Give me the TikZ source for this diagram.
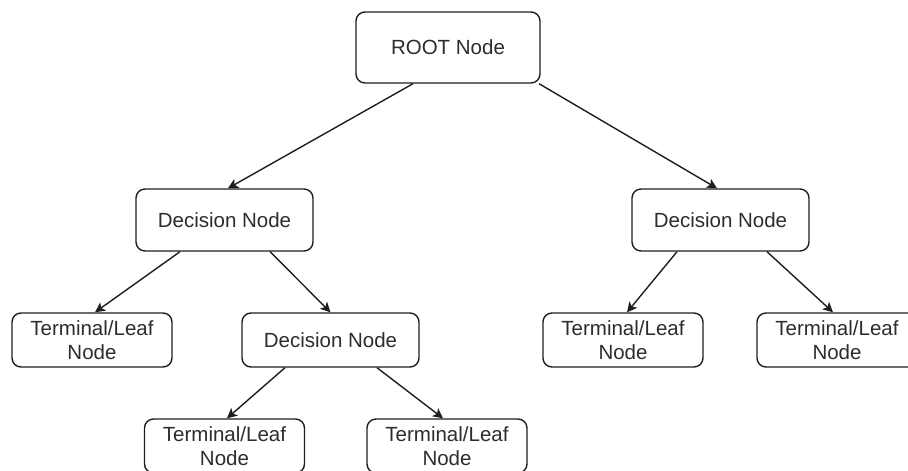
\documentclass[tikz,border=0pt]{standalone}
\usepackage{fontspec}
\setmainfont{Liberation Sans}
\usetikzlibrary{positioning, arrows.meta, calc}
\definecolor{boxcol}{RGB}{30,30,30}
\definecolor{textcol}{RGB}{45,45,45}

\begin{document}
\begin{tikzpicture}[
			x=1pt,
			y=-1pt,
			box/.style={
				draw=boxcol,
				rounded corners=9pt,
				line width=1.4pt,
				fill=white,
				inner sep=0pt,
				align=center,
				text=textcol,
				font=\fontsize{20.5}{24}\selectfont
			},
			decision/.style={
				box,
				minimum width=177pt,
				minimum height=62pt
			},
			leaf/.style={
				box,
				minimum width=160pt,
				minimum height=54pt
			},
			arrow/.style={
				draw=boxcol,
				line width=1.4pt,
				-{Stealth[length=10pt,width=10pt,inset=2.5pt]}
			}
			]
			\useasboundingbox (0,0) rectangle (908,471);
			
			% Nodes
			\node[box, minimum width=184pt, minimum height=71pt] (root) at (448,47.5) {ROOT Node};
			\node[decision] (decL) at (224.5,220) {Decision Node};
			\node[decision] (decR) at (720.5,220) {Decision Node};
			\node[leaf] (leafA) at (92,340) {Terminal/Leaf\\Node};
			\node[decision, minimum height=54pt] (decM) at (330.5,340) {Decision Node};
			\node[leaf] (leafD) at (623,340) {Terminal/Leaf\\Node};
			\node[leaf] (leafE) at (837,340) {Terminal/Leaf\\Node};
			\node[leaf] (leafB) at (224.5,446) {Terminal/Leaf\\Node};
			\node[leaf] (leafC) at (447,446) {Terminal/Leaf\\Node};
			
			% Edges
			\draw[arrow] ($(root.south)+(-35,0)$) -- ($(decL.north)+(3.5,0)$);
			\draw[arrow] ($(root.south)+(91,0)$) -- ($(decR.north)+(-3.5,0)$);
			\draw[arrow] ($(decL.south)+(-44.5,0)$) -- ($(leafA.north)+(3,0)$);
			\draw[arrow] ($(decL.south)+(45.5,0)$) -- (decM.north);
			\draw[arrow] ($(decM.south)+(-45.5,0)$) -- ($(leafB.north)+(2.5,0)$);
			\draw[arrow] ($(decM.south)+(46.5,0)$) -- ($(leafC.north)+(-4,0)$);
			\draw[arrow] ($(decR.south)+(-43.5,0)$) -- ($(leafD.north)+(4,0)$);
			\draw[arrow] ($(decR.south)+(46.5,0)$) -- ($(leafE.north)+(-4,0)$);
		\end{tikzpicture}
\end{document}
